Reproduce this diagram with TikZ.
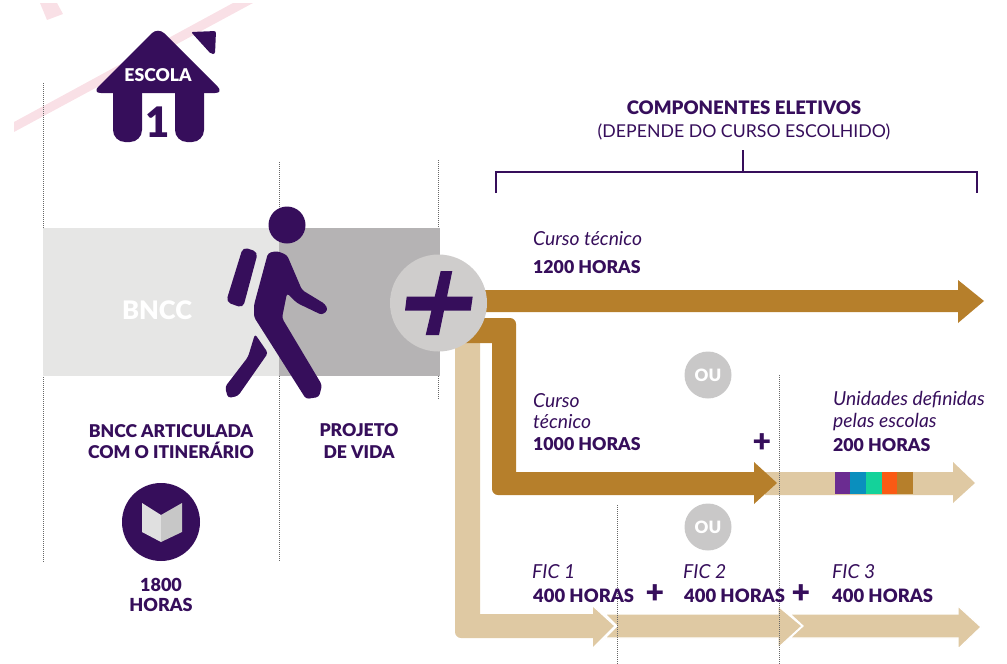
\documentclass[tikz,border=0pt]{standalone}
\usepackage{fontspec}
\setmainfont{Lato}[BoldFont={Lato Black}]
\definecolor{pur}{HTML}{360E5B}
\definecolor{brn}{HTML}{B67F2B}
\definecolor{tan2}{HTML}{DFC9A3}
\definecolor{ougray}{HTML}{C9C8C8}
\definecolor{pinkb}{HTML}{F9E0E6}
\definecolor{lightb}{HTML}{E6E6E5}
\definecolor{darkb}{HTML}{B5B3B4}
\definecolor{circg}{HTML}{CFCDCC}
\definecolor{stripa}{HTML}{6B2C91}
\definecolor{stripb}{HTML}{0A8FBE}
\definecolor{stripc}{HTML}{14D29A}
\definecolor{stripd}{HTML}{FA5A14}
\tikzset{
  dotline/.style={draw=black!60,line width=0.7pt,dash pattern=on 1pt off 1pt},
  bt/.style={text=pur,font=\fontsize{17.7}{17.7}\selectfont\bfseries,inner sep=0pt,anchor=base west},
  bth/.style={text=pur,font=\fontsize{18.4}{18.4}\selectfont\bfseries,inner sep=0pt,anchor=base west},
  it/.style={text=pur,font=\fontsize{19.3}{19.3}\selectfont\itshape,inner sep=0pt,anchor=base west},
  ct/.style={text=pur,font=\fontsize{17.6}{17.6}\selectfont\bfseries,inner sep=0pt,anchor=base},
  plusn/.style={text=pur,font=\fontsize{32}{32}\selectfont\bfseries,inner sep=0pt},
  ougr/.style={circle,fill=ougray,minimum size=47pt,inner sep=0pt,text=white,font=\fontsize{17}{17}\selectfont\bfseries},
  tanarrow/.style={fill=tan2,draw=white,line width=1.2pt},
}
\begin{document}
\begin{tikzpicture}[x=1pt,y=-1pt]
\useasboundingbox (0,0) rectangle (1007,664);
% pink background
\fill[pinkb] (14,122) -- (233,3) -- (253,3) -- (14,132) -- cycle;
\fill[pinkb] (40,3) -- (57,3) -- (63,14) -- (47,20) -- cycle;
% dotted guides
\draw[dotline] (43,83) -- (43,562);
\draw[dotline] (279,162) -- (279,562);
\draw[dotline] (438,160) -- (438,400);
% blocks
\fill[lightb] (43,228) rectangle (279,376);
\fill[darkb] (279,228) rectangle (440,376);
\node[text=white,font=\fontsize{25.5}{25.5}\selectfont\bfseries,inner sep=0pt] (bncc) at (157,310) {BNCC};
% house
\draw[white,line width=5pt] (192,42) -- (222,72);
\fill[pur,rounded corners=9pt] (158,27) -- (224,93) -- (92,93) -- cycle;
\fill[pur,rounded corners=12pt] (113,70) -- (142,70) -- (142,142) -- (113,142) -- cycle;
\fill[pur,rounded corners=12pt] (175,70) -- (204,70) -- (204,142) -- (175,142) -- cycle;
\fill[pur,rounded corners=2pt] (191,32) -- (216,31) -- (215,54) -- (211,54) -- cycle;
\node[text=white,font=\fontsize{17.6}{17.6}\selectfont\bfseries,inner sep=0pt] (escola) at (158,75) {ESCOLA};
\node[text=pur,font=\fontsize{42}{42}\selectfont\bfseries,inner sep=0pt] (um) at (158,122) {1};
% person
\fill[pur] (287,225) circle (18.5);
\fill[pur,rounded corners=5pt] (243,247) -- (258,252) -- (243,308) -- (226,302) -- cycle;
\fill[pur,rounded corners=3pt] (268,253) -- (277,251) -- (287,255) -- (302,290) -- (325,304) -- (328,310) -- (322,315) -- (297,303) -- (287,293) -- (282,318) -- (322,385) -- (319,397) -- (306,399) -- (254,317) -- (254,305) -- cycle;
\fill[pur,rounded corners=3pt] (255,334) -- (268,353) -- (238,396) -- (228,398) -- (225,387) -- (248,357) -- cycle;
% arrows
\fill[brn] (480,290) -- (958,290) -- (958,280) -- (984,301) -- (958,323) -- (958,312) -- (480,312) -- cycle;
\path[tanarrow] (790,614) -- (958,614) -- (958,606) -- (981,627) -- (958,649) -- (958,638) -- (790,638) -- (803,626) -- cycle;
\path[tanarrow] (605,614) -- (778,614) -- (778,606) -- (802,626) -- (778,648) -- (778,638) -- (605,638) -- (617,626) -- cycle;
\fill[tan2] (455,343) -- (480,343) -- (480,614) -- (593,614) -- (593,606) -- (615,626) -- (593,648) -- (593,638) [rounded corners=6pt] -- (455,638) [sharp corners] -- cycle;
\draw[white,line width=1.2pt] (593,606) -- (615,626) -- (593,648);
\fill[tan2] (765,472) -- (953,472) -- (953,462) -- (975,483) -- (953,503) -- (953,495) -- (765,495) -- cycle;
\fill[brn] (460,318) [rounded corners=6pt] -- (516,318) [sharp corners] -- (516,472) -- (754,472) -- (754,462) -- (777,483) -- (754,504) -- (754,495) [rounded corners=6pt] -- (492,495) [sharp corners] -- (492,343) -- (460,343) -- cycle;
% colour strip
\fill[stripa] (835,472) rectangle (850,494);
\fill[stripb] (850,472) rectangle (866,494);
\fill[stripc] (866,472) rectangle (882,494);
\fill[stripd] (882,472) rectangle (897,494);
\fill[brn] (897,472) rectangle (913,494);
% later guides
\draw[dotline] (617,505) -- (617,664);
\draw[dotline] (779,375) -- (779,664);
% plus circle
\node[circle,fill=circg,minimum size=97pt,inner sep=0pt] (pluscirc) at (438.5,303) {};
\fill[pur] (440.7,271) -- (452.3,271) -- (447,296.7) -- (472.7,296.7) -- (470.7,310.7) -- (444,310.7) -- (439,335) -- (425.7,335) -- (431.4,310.7) -- (405,310.7) -- (406.7,296.7) -- (434.7,296.7) -- cycle;
% bracket
\draw[pur,line width=2.8pt] (496,193) -- (496,172) -- (977,172) -- (977,193);
\draw[pur,line width=2.8pt] (743,150) -- (743,172);
\node[ct,font=\fontsize{18.6}{18.6}\selectfont\bfseries] (comp) at (744,114) {COMPONENTES ELETIVOS};
\node[text=pur,font=\fontsize{17.7}{17.7}\selectfont,inner sep=0pt,anchor=base] (dep) at (744,137) {(DEPENDE DO CURSO ESCOLHIDO)};
% left labels
\node[ct] (art1) at (171,437) {BNCC ARTICULADA};
\node[ct] (art2) at (171,458) {COM O ITINERÁRIO};
\node[ct] (proj1) at (359,436) {PROJETO};
\node[ct] (proj2) at (359,458) {DE VIDA};
\node[circle,fill=pur,minimum size=78pt,inner sep=0pt] (bookc) at (161,522) {};
\fill[black!12] (142,503) -- (161,515) -- (161,542) -- (142,532) -- cycle;
\fill[black!22] (161,515) -- (182,503) -- (182,532) -- (161,542) -- cycle;
\node[ct,font=\fontsize{18}{18}\selectfont\bfseries] (h1) at (161,591) {1800};
\node[ct,font=\fontsize{18}{18}\selectfont\bfseries] (h2) at (161,611) {HORAS};
% right labels
\node[it] (c1) at (533,245) {Curso técnico};
\node[bt] (c1h) at (533,273) {1200 HORAS};
\node[ougr] (ou1) at (708,375) {OU};
\node[ougr] (ou2) at (708,527) {OU};
\node[it] (c2a) at (533,407) {Curso};
\node[it] (c2b) at (533,428) {técnico};
\node[bt] (c2h) at (533,450) {1000 HORAS};
\node[plusn] (p1) at (762,443) {+};
\node[it] (u1) at (833,405) {Unidades definidas};
\node[it] (u2) at (833,427) {pelas escolas};
\node[bt] (uh) at (833,451) {200 HORAS};
\node[it] (f1) at (532,578) {FIC 1};
\node[bth] (f1h) at (533,602) {400 HORAS};
\node[plusn] (p2) at (655,594) {+};
\node[it] (f2) at (683,578) {FIC 2};
\node[bth] (f2h) at (684,602) {400 HORAS};
\node[plusn] (p3) at (801,594) {+};
\node[it] (f3) at (832,578) {FIC 3};
\node[bth] (f3h) at (832,602) {400 HORAS};
\end{tikzpicture}
\end{document}
